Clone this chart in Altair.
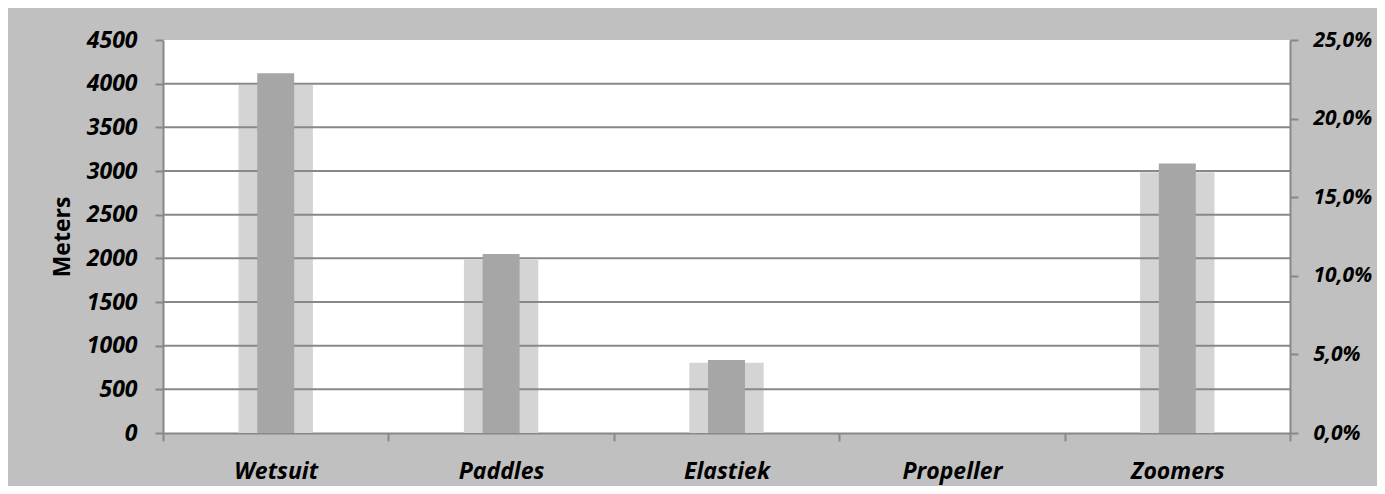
import altair as alt
import pandas as pd

categories = ["Wetsuit", "Paddles", "Elastiek", "Propeller", "Zoomers"]
meters = [4120, 2050, 835, 0, 3085]
shadow = [3985, 1985, 805, 0, 2985]
y_ticks = [0, 500, 1000, 1500, 2000, 2500, 3000, 3500, 4000, 4500]
grid_values = [500, 1000, 1500, 2000, 2500, 3000, 3500, 4000]
pct_tick_meters = [0, 900, 1800, 2700, 3600, 4500]

df = pd.DataFrame({"cat": categories, "meters": meters, "shadow": shadow})
grid_df = pd.DataFrame({"v": grid_values})

FONT = "Open Sans"
FS = 23
GRAY = "#888888"
yscale = alt.Scale(domain=[0, 4500], nice=False, zero=True)

x_enc = alt.X(
    "cat:N", sort=categories,
    scale=alt.Scale(paddingInner=0, paddingOuter=0),
    axis=alt.Axis(title=None, tickBand="extent", tickSize=8, tickWidth=2,
                  tickColor=GRAY, domainColor=GRAY, domainWidth=2,
                  labelFont=FONT, labelFontSize=FS, labelFontWeight="bold",
                  labelFontStyle="italic", labelColor="black",
                  labelPadding=19, labelAngle=0),
)

light = alt.Chart(df).mark_bar(width={"band": 0.33}, color="#d4d4d4").encode(
    x=x_enc,
    y=alt.Y("shadow:Q", scale=yscale,
            axis=alt.Axis(title="Meters", values=y_ticks, grid=False, format="d",
                          tickSize=8, tickWidth=2, tickColor=GRAY,
                          domainColor=GRAY, domainWidth=2,
                          labelFont=FONT, labelFontSize=FS, labelFontWeight="bold",
                          labelFontStyle="italic", labelColor="black",
                          labelPadding=18, labelOverlap=False,
                          titleFont=FONT, titleFontSize=FS, titleFontWeight="bold",
                          titleColor="black", titleX=-89, titleY=196.5,
                          titleAngle=270, titleBaseline="bottom", titleAlign="center")),
)

grid = alt.Chart(grid_df).mark_rule(color=GRAY, strokeWidth=2).encode(
    y=alt.Y("v:Q", scale=yscale, axis=None)
)

dark = alt.Chart(df).mark_bar(width={"band": 0.164}, color="#a6a6a6").encode(
    x=x_enc,
    y=alt.Y("meters:Q", scale=yscale,
            axis=alt.Axis(title=None, orient="right", values=pct_tick_meters,
                          grid=False, tickSize=8, tickWidth=2, tickColor=GRAY,
                          domainColor=GRAY, domainWidth=2,
                          labelExpr="replace(format(datum.value / 18000, '.1%'), '.', ',')",
                          labelFont=FONT, labelFontSize=21, labelFontWeight="bold",
                          labelFontStyle="italic", labelColor="black",
                          labelPadding=15, labelOverlap=False)),
)

chart = alt.layer(light, grid, dark).resolve_axis(y="independent").properties(
    width=1127, height=393,
    autosize=alt.AutoSizeParams(type="none"),
    padding={"left": 155, "top": 32, "right": 87, "bottom": 53},
    background="#c0c0c0",
).configure_view(stroke=None, fill="white")

chart.save("out.html", embed_options={"renderer": "svg", "actions": False})
